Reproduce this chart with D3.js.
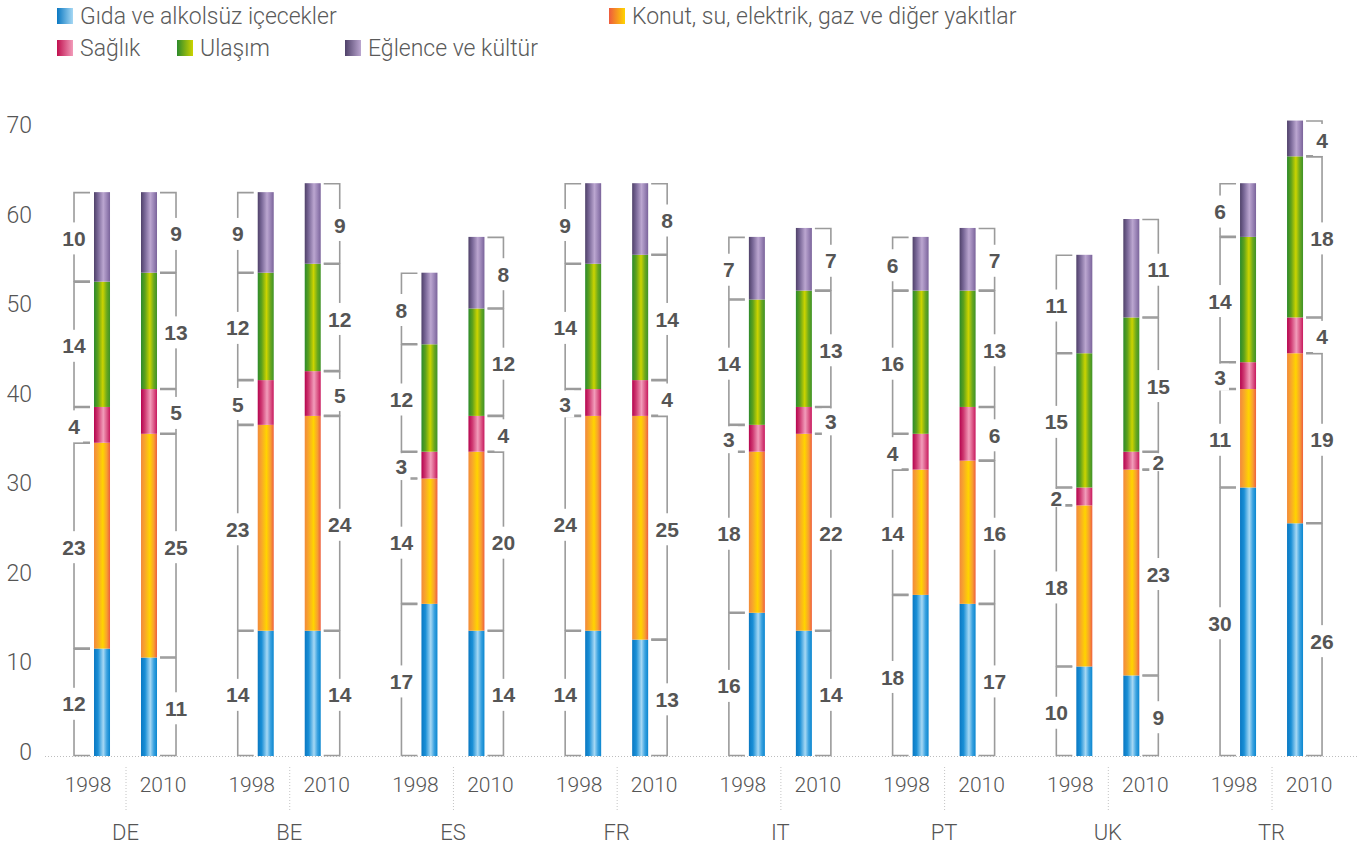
<!DOCTYPE html>
<html>
<head>
<meta charset="utf-8">
<script src="https://cdn.jsdelivr.net/npm/d3@7"></script>
<style>
  html, body { margin: 0; padding: 0; background: #fff; }
  svg { display: block; }
</style>
</head>
<body>
<svg id="chart" width="1357" height="847"></svg>
<script>
// ---- DATA ----
const countries = ['DE', 'BE', 'ES', 'FR', 'IT', 'PT', 'UK', 'TR'];
const years = ['1998', '2010'];
const categories = [
  'Gıda ve alkolsüz içecekler',
  'Konut, su, elektrik, gaz ve diğer yakıtlar',
  'Sağlık',
  'Ulaşım',
  'Eğlence ve kültür'
];
// values per country in order DE98, DE10, BE98, BE10, ...
const gida    = [12, 11, 14, 14, 17, 14, 14, 13, 16, 14, 18, 17, 10, 9, 30, 26];
const konut   = [23, 25, 23, 24, 14, 20, 24, 25, 18, 22, 14, 16, 18, 23, 11, 19];
const saglik  = [4, 5, 5, 5, 3, 4, 3, 4, 3, 3, 4, 6, 2, 2, 3, 4];
const ulasim  = [14, 13, 12, 12, 12, 12, 14, 14, 14, 13, 16, 13, 15, 15, 14, 18];
const eglence = [10, 9, 9, 9, 8, 8, 9, 8, 7, 7, 6, 7, 11, 11, 6, 4];
const yTicks = [0, 10, 20, 30, 40, 50, 60, 70];

const seriesValues = [gida, konut, saglik, ulasim, eglence];

// ---- STYLE ----
const gradStops = [
  [['0%', '#0a78c2'], ['25%', '#1a8fd6'], ['58%', '#a6d8f4'], ['80%', '#3aa2e0'], ['100%', '#0a86cf']],
  [['0%', '#f28a3a'], ['25%', '#f8a82a'], ['55%', '#ffd400'], ['80%', '#f8a030'], ['100%', '#ee5f3e']],
  [['0%', '#b5044e'], ['25%', '#cf3a72'], ['58%', '#f29cba'], ['80%', '#dc5a88'], ['100%', '#c8185e']],
  [['0%', '#2c8a2c'], ['25%', '#5ea21c'], ['55%', '#ccd400'], ['80%', '#6aa81e'], ['100%', '#3e9228']],
  [['0%', '#4f4169'], ['25%', '#7a6898'], ['58%', '#bba6d0'], ['80%', '#9a84b6'], ['100%', '#7a639a']]
];
const legendStops = [
  ['#0a78c2', '#a6d8f4'],
  ['#ee5a3e', '#ffd400'],
  ['#c0104f', '#f29cba'],
  ['#2c8a2c', '#ccd400'],
  ['#4f4169', '#bba6d0']
];

const svg = d3.select('#chart');
const defs = svg.append('defs');
gradStops.forEach((stops, i) => {
  const g = defs.append('linearGradient').attr('id', 'bar' + i)
    .attr('x1', '0%').attr('x2', '100%').attr('y1', '0%').attr('y2', '0%');
  stops.forEach(s => g.append('stop').attr('offset', s[0]).attr('stop-color', s[1]));
});
legendStops.forEach((c, i) => {
  const g = defs.append('linearGradient').attr('id', 'leg' + i)
    .attr('x1', '0%').attr('x2', '100%').attr('y1', '0%').attr('y2', '0%');
  g.append('stop').attr('offset', '0%').attr('stop-color', c[0]);
  g.append('stop').attr('offset', '100%').attr('stop-color', c[1]);
});

// ---- SCALES ----
const y = d3.scaleLinear().domain([0, 70]).range([756, 129.5]);
const xCountry = d3.scaleBand().domain(countries).range([43.65, 1353.4]).padding(0);
const xYear = d3.scaleBand().domain(years).range([-47, 47]).padding(0);
const xYearLabel = d3.scalePoint().domain(years).range([-37.5, 37.5]);
const barW = 16;

const lightFont = 'Roboto, "Liberation Sans", Arial, sans-serif';
const boldFont = '"Liberation Sans", Arial, sans-serif';

// ---- Y AXIS ----
const yAxis = d3.axisLeft(y).tickValues(yTicks).tickSize(0).tickPadding(4);
const yG = svg.append('g').attr('transform', 'translate(36,0)').call(yAxis);
yG.select('.domain').remove();
yG.selectAll('text')
  .attr('y', -4)
  .attr('font-family', lightFont)
  .attr('font-weight', 300)
  .attr('font-size', 23)
  .attr('fill', '#555');

// baseline
svg.append('line')
  .attr('x1', 45).attr('x2', 1357)
  .attr('y1', y(0) + 0.5).attr('y2', y(0) + 0.5)
  .attr('stroke', '#bdbdbd').attr('stroke-width', 1)
  .attr('stroke-dasharray', '1,2');

// ---- BARS ----
const barLayer = svg.append('g');
const bracketLayer = svg.append('g');
const labelLayer = svg.append('g');

countries.forEach((c, ci) => {
  const cx0 = xCountry(c) + xCountry.bandwidth() / 2;
  years.forEach((yr, yi) => {
    const idx = ci * 2 + yi;
    const cx = cx0 + xYear(yr) + xYear.bandwidth() / 2;
    const barL = cx - barW / 2, barR = cx + barW / 2;
    const left = yi === 0;
    const vline = left ? barL - 20 : barR + 19;
    const tickEnd = left ? barL - 4 : barR + 3;
    let cum = 0;
    seriesValues.forEach((vals, si) => {
      const v = vals[idx];
      const y0 = y(cum), y1 = y(cum + v);
      barLayer.append('rect')
        .attr('x', barL).attr('width', barW)
        .attr('y', y1).attr('height', y0 - y1)
        .attr('fill', `url(#bar${si})`);
      // bracket
      bracketLayer.append('path')
        .attr('d', `M${tickEnd},${y1 + 0.5}H${vline}V${y0 - 0.5}H${tickEnd}`)
        .attr('fill', 'none').attr('stroke', '#9b9b9b').attr('stroke-width', 1.6);
      // label
      const mid = (y0 + y1) / 2 + 1.5;
      const txt = String(v);
      const tw = txt.length * 12;
      const segH = y0 - y1;
      const rh = Math.min(32, segH);
      labelLayer.append('rect')
        .attr('x', vline - tw / 2 - 3).attr('width', tw + 6)
        .attr('y', mid - rh / 2).attr('height', rh)
        .attr('fill', '#fff');
      labelLayer.append('text')
        .attr('x', vline).attr('y', mid)
        .attr('dy', '0.36em')
        .attr('text-anchor', 'middle')
        .attr('font-family', boldFont)
        .attr('font-weight', 'bold')
        .attr('font-size', 21)
        .attr('fill', '#555')
        .text(txt);
      cum += v;
    });
  });
});

// ---- X LABELS ----
countries.forEach(c => {
  const cx0 = xCountry(c) + xCountry.bandwidth() / 2;
  svg.append('line')
    .attr('x1', cx0 + 0.5).attr('x2', cx0 + 0.5)
    .attr('y1', 767).attr('y2', 810)
    .attr('stroke', '#c4c4c4').attr('stroke-width', 1)
    .attr('stroke-dasharray', '1,2');
  years.forEach(yr => {
    svg.append('text')
      .attr('x', cx0 + xYearLabel(yr)).attr('y', 792)
      .attr('text-anchor', 'middle')
      .attr('font-family', lightFont).attr('font-weight', 300)
      .attr('font-size', 21).attr('fill', '#555')
      .text(yr);
  });
});
const xAxis = d3.axisBottom(xCountry).tickSize(0).tickPadding(0);
const xG = svg.append('g').attr('transform', 'translate(0,0)').call(xAxis);
xG.select('.domain').remove();
xG.selectAll('text')
  .attr('y', 840)
  .attr('dy', null)
  .attr('font-family', lightFont).attr('font-weight', 300)
  .attr('font-size', 22).attr('fill', '#555');

// ---- LEGEND ----
const legendPos = [
  { x: 57, y: 16 },
  { x: 609, y: 16 },
  { x: 57, y: 48 },
  { x: 177, y: 48 },
  { x: 345, y: 48 }
];
const leg = svg.append('g').selectAll('g.leg')
  .data(categories).join('g')
  .attr('class', 'leg')
  .attr('transform', (d, i) => `translate(${legendPos[i].x},${legendPos[i].y})`);
leg.append('rect')
  .attr('x', 0).attr('y', -8).attr('width', 16).attr('height', 16)
  .attr('fill', (d, i) => `url(#leg${i})`);
leg.append('text')
  .attr('x', 23).attr('y', 0).attr('dy', '0.36em')
  .attr('font-family', lightFont).attr('font-weight', 300)
  .attr('font-size', 23).attr('fill', '#5a5a5a')
  .text(d => d);
</script>
</body>
</html>
